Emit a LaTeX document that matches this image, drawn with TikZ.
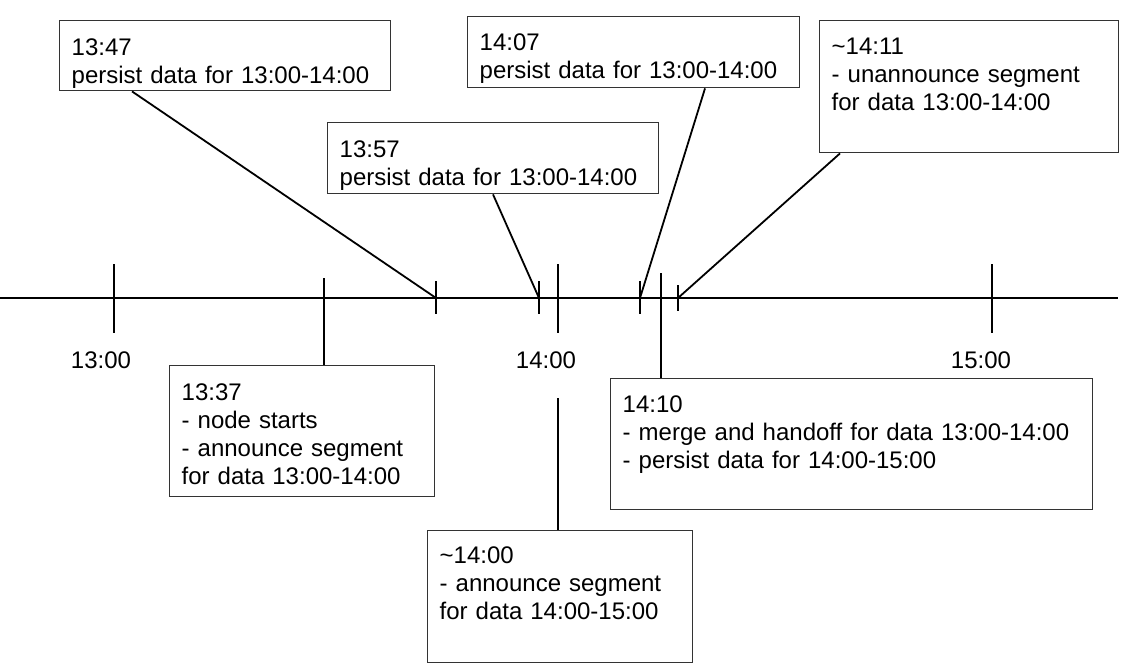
\documentclass[tikz,border=0pt]{standalone}
\usepackage{fontspec}
\setmainfont{Liberation Sans}
\usetikzlibrary{positioning}

\begin{document}
\begin{tikzpicture}[
    x=0.5pt, y=-0.5pt,
    every node/.style={font=\fontsize{12pt}{14pt}\selectfont},
    note/.style={draw=black!80, line width=0.7pt, fill=white, anchor=north west,
                 align=left, inner xsep=6pt, inner ysep=0pt},
    hour/.style={anchor=base, inner sep=0pt},
    axis/.style={line width=1pt},
    bigtick/.style={line width=1pt},
    smalltick/.style={line width=0.9pt},
    link/.style={line width=0.9pt}
]
\useasboundingbox (0,0) rectangle (1133,668);

\node[note, text width=153.5pt, text height=17.5pt, text depth=17.5pt] (b1347) at (59,20)
    {13:47\\persist data for 13:00-14:00};
\node[note, text width=153.5pt, text height=17.5pt, text depth=18pt]   (b1357) at (327,122)
    {13:57\\persist data for 13:00-14:00};
\node[note, text width=154pt,   text height=17pt,   text depth=18.5pt] (b1407) at (467,16)
    {14:07\\persist data for 13:00-14:00};
\node[note, text width=137.5pt, text height=17pt,   text depth=49pt]   (b1411) at (819,20)
    {\textasciitilde14:11\\- unannounce segment\\for data 13:00-14:00};
\node[note, text width=120.5pt, text height=17.5pt, text depth=48pt]   (b1337) at (169,365)
    {13:37\\- node starts\\- announce segment\\for data 13:00-14:00};
\node[note, text width=120.5pt, text height=16.5pt, text depth=49.5pt] (b1400) at (427,530)
    {\textasciitilde14:00\\- announce segment\\for data 14:00-15:00};
\node[note, text width=229pt,   text height=17pt,   text depth=48.5pt] (b1410) at (610,378)
    {14:10\\- merge and handoff for data 13:00-14:00\\- persist data for 14:00-15:00};

\node[hour] (h13) at (101,368) {13:00};
\node[hour] (h14) at (546,368) {14:00};
\node[hour] (h15) at (981,368) {15:00};

\draw[axis] (0,298) -- (1118,298);
\foreach \x in {114, 558, 992}
    \draw[bigtick] (\x,264) -- (\x,333);
\foreach \x in {436, 539, 640}
    \draw[smalltick] (\x,281) -- (\x,314);
\draw[smalltick] (678,285) -- (678,311);

\coordinate (t1347) at (436,298);
\coordinate (t1357) at (539,298);
\coordinate (t1407) at (640,298);
\coordinate (t1411) at (678,298);
\coordinate (p1337) at (324,278);
\coordinate (p1410) at (661,273);
\coordinate (p1400) at (558,398);

\draw[link] (b1347.south west) ++(73,0) -- (t1347);
\draw[link] (b1357.south west) ++(166,0) -- (t1357);
\draw[link] (b1407.south west) ++(238,0) -- (t1407);
\draw[link] (b1411.south west) ++(21,0) -- (t1411);
\draw[link] (p1337) -- (p1337 |- b1337.north);
\draw[link] (p1410) -- (p1410 |- b1410.north);
\draw[link] (p1400) -- (p1400 |- b1400.north);
\end{tikzpicture}
\end{document}
